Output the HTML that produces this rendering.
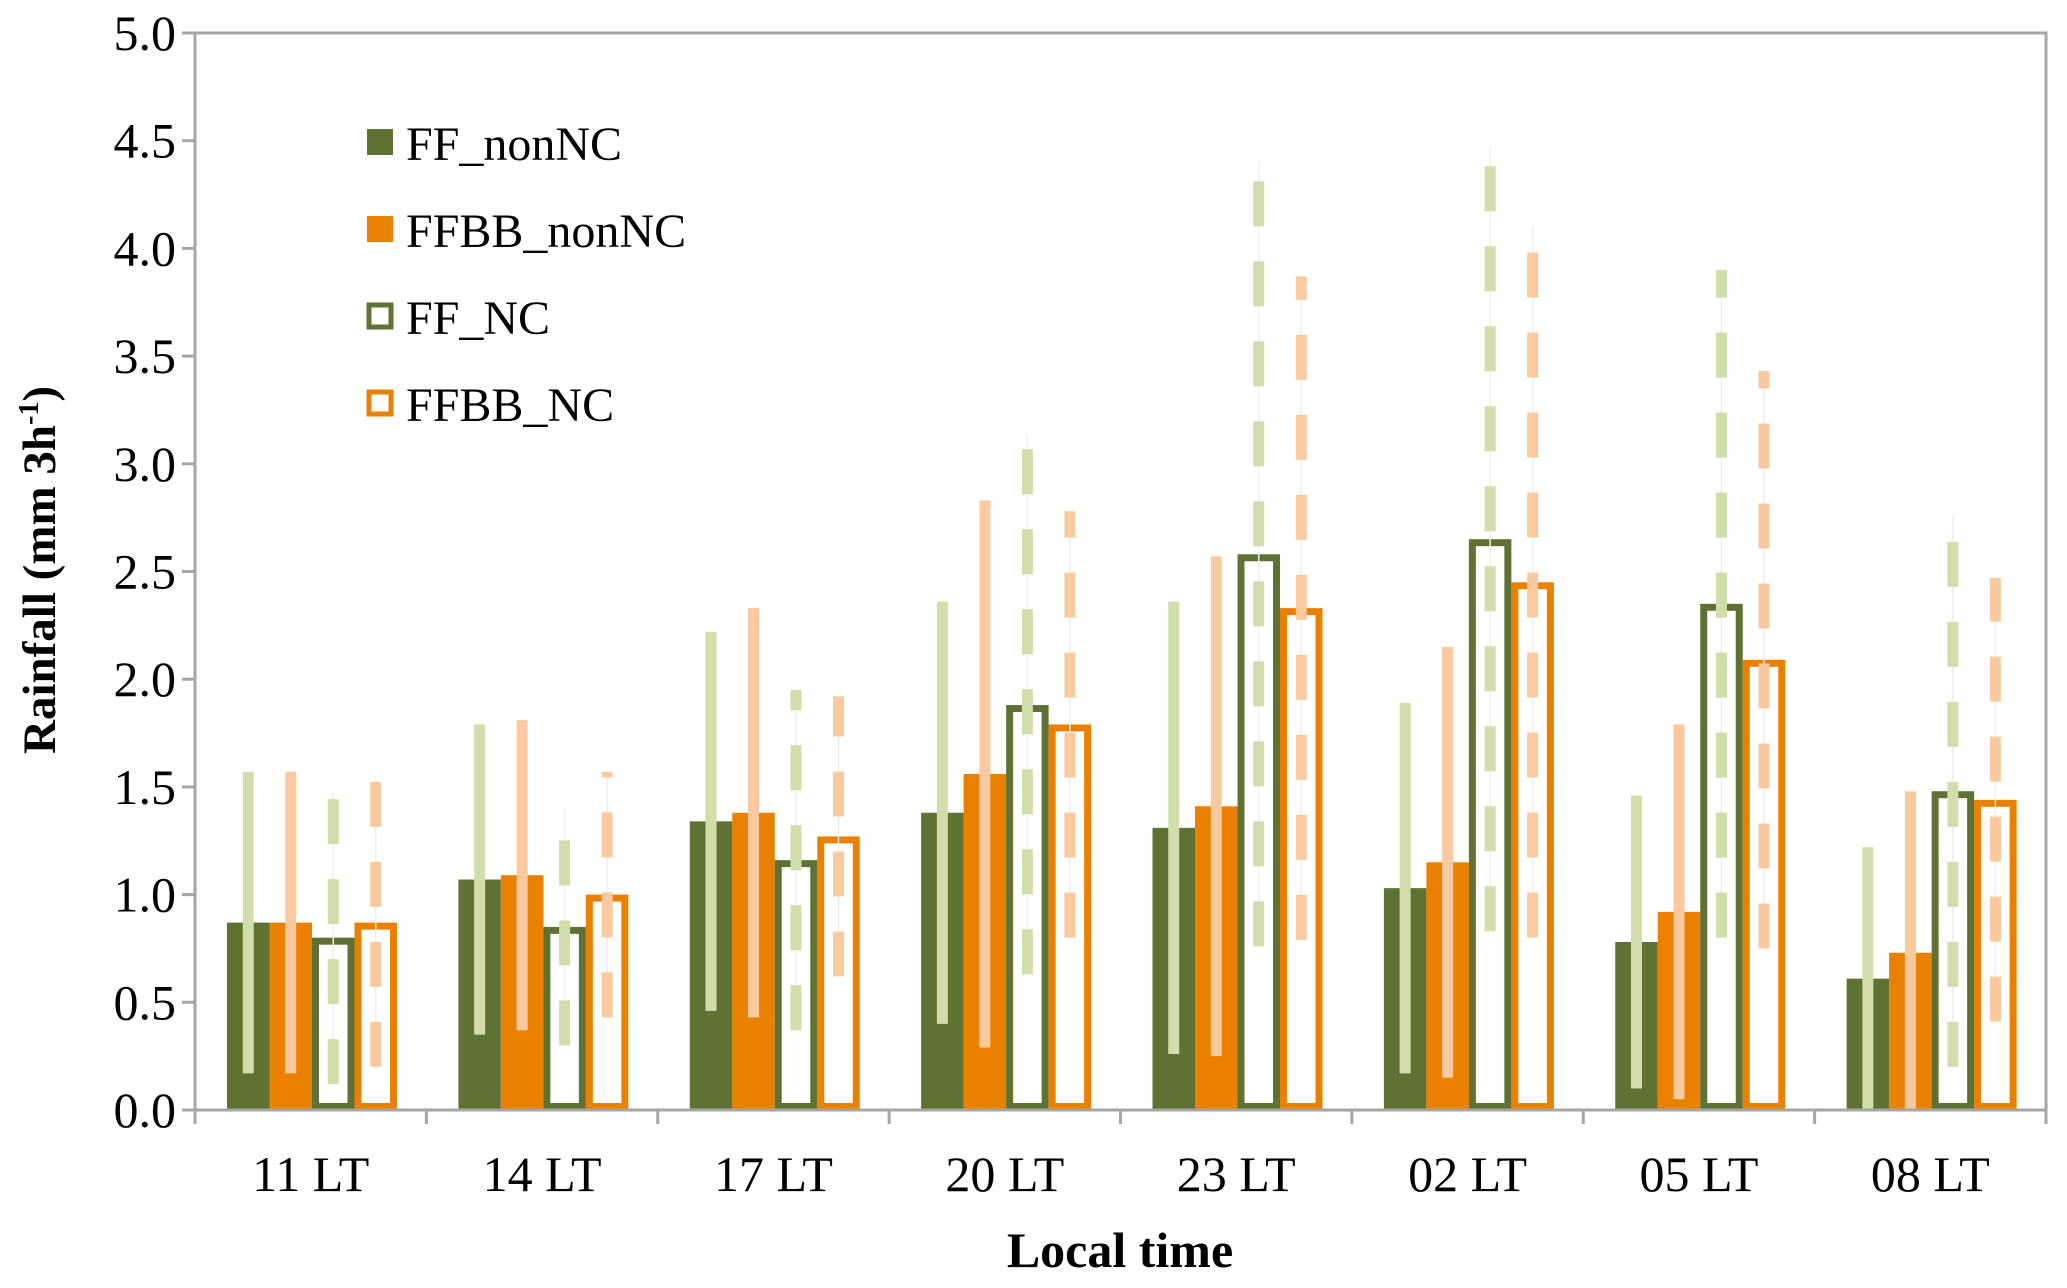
<!DOCTYPE html>
<html><head><meta charset="utf-8"><style>
html,body{margin:0;padding:0;background:#fff;}
svg{display:block;font-family:"Liberation Serif",serif;}
</style></head><body>
<svg id="chart" width="2067" height="1288" viewBox="0 0 2067 1288">
<g id="grid"></g><g id="bars"></g><g id="errs"></g><g id="axes"></g>
<text x="1120" y="1267" font-size="50" font-weight="bold" text-anchor="middle">Local time</text>
<text transform="translate(55,570) rotate(-90)" font-size="47" font-weight="bold" text-anchor="middle">Rainfall (mm  3h<tspan dy="-17" font-size="28">-1</tspan><tspan dy="17">)</tspan></text>
<g>
<g><rect x="367" y="129" width="26" height="26" fill="#5f7233"/><text x="406" y="160" font-size="48">FF_nonNC</text></g>
<g><rect x="367" y="216" width="26" height="26" fill="#e98000"/><text x="406" y="247" font-size="48">FFBB_nonNC</text></g>
<g><rect x="369" y="305" width="22" height="22" fill="#fff" stroke="#5f7233" stroke-width="5"/><text x="406" y="334" font-size="48">FF_NC</text></g>
<g><rect x="369" y="392" width="22" height="22" fill="#fff" stroke="#e98000" stroke-width="5"/><text x="406" y="421" font-size="48">FFBB_NC</text></g>
</g>
</svg>
<script>
const categories = ["11 LT","14 LT","17 LT","20 LT","23 LT","02 LT","05 LT","08 LT"];
const ffNonNC   = [0.87,1.07,1.34,1.38,1.31,1.03,0.78,0.61];
const ffbbNonNC = [0.87,1.09,1.38,1.56,1.41,1.15,0.92,0.73];
const ffNC      = [0.80,0.85,1.16,1.88,2.58,2.65,2.35,1.48];
const ffbbNC    = [0.87,1.00,1.27,1.79,2.33,2.45,2.09,1.44];
const ffNonNCErr   = [0.70,0.72,0.88,0.98,1.05,0.86,0.68,0.61];
const ffbbNonNCErr = [0.70,0.72,0.95,1.27,1.16,1.00,0.87,0.75];
const ffNCErr      = [0.68,0.55,0.79,1.25,1.82,1.82,1.55,1.28];
const ffbbNCErr    = [0.67,0.57,0.65,0.99,1.54,1.65,1.34,1.03];
const yTicks = ["0.0","0.5","1.0","1.5","2.0","2.5","3.0","3.5","4.0","4.5","5.0"];

const NS="http://www.w3.org/2000/svg";
const L=195,R=2046,T=33,B=1110,YMAX=5;
const gw=(R-L)/categories.length, bw=42.5, off=32;
const y=v=>B-(v/YMAX)*(B-T);
const xBar=(i,k)=>L+i*gw+off+k*bw;
function mk(tag,attrs,parent){const e=document.createElementNS(NS,tag);for(const a in attrs)e.setAttribute(a,attrs[a]);parent.appendChild(e);return e;}
const gBars=document.getElementById('bars'),gErr=document.getElementById('errs'),gAx=document.getElementById('axes');
const series=[
 {v:ffNonNC,e:ffNonNCErr,c:"#5f7233",lc:"#d1deab",fill:true,n:"ff-nonnc"},
 {v:ffbbNonNC,e:ffbbNonNCErr,c:"#e98000",lc:"#fbc9a0",fill:true,n:"ffbb-nonnc"},
 {v:ffNC,e:ffNCErr,c:"#5f7233",lc:"#d1deab",fill:false,n:"ff-nc"},
 {v:ffbbNC,e:ffbbNCErr,c:"#e98000",lc:"#fbc9a0",fill:false,n:"ffbb-nc"}];
series.forEach((s,k)=>{
 s.v.forEach((val,i)=>{
  const x=xBar(i,k);
  let r;
  if(s.fill){r=mk('rect',{x:x,y:y(val),width:bw,height:B-y(val),fill:s.c},gBars);}
  else{r=mk('rect',{x:x+3.5,y:y(val)+3.5,width:bw-7,height:B-y(val)-7,fill:"#fff",stroke:s.c,"stroke-width":7},gBars);}
  
  
  const cx=x+bw/2, lo=Math.max(0,val-s.e[i]), hi=val+s.e[i];
  if(s.fill){
   const l=mk('line',{x1:cx,x2:cx,y1:y(lo),y2:y(hi),stroke:s.lc,"stroke-width":11},gErr);
   
   
  } else {
   mk('line',{x1:cx,x2:cx,y1:y(lo),y2:y(hi),stroke:"#eeeeee","stroke-width":1.5},gErr);
   const l=mk('line',{x1:cx,x2:cx,y1:y(lo),y2:y(hi),stroke:s.lc,"stroke-width":11,"stroke-dasharray":"45 35"},gErr);
   
   
  }
 });
});
mk('rect',{x:L,y:T,width:R-L,height:B-T,fill:"none",stroke:"#a6a6a6","stroke-width":3},gAx);
yTicks.forEach((t,i)=>{
 const v=parseFloat(t);
 mk('line',{x1:L-13,x2:L,y1:y(v),y2:y(v),stroke:"#a6a6a6","stroke-width":3},gAx);
 const tx=mk('text',{x:176,y:y(v)+17,"font-size":50,"text-anchor":"end"},gAx);
 tx.textContent=t;
 
 
});
for(let i=0;i<=categories.length;i++){
 mk('line',{x1:L+i*gw,x2:L+i*gw,y1:B,y2:B+14,stroke:"#a6a6a6","stroke-width":3},gAx);
}
categories.forEach((c,i)=>{
 const tx=mk('text',{x:L+i*gw+gw/2,y:1191,"font-size":50,"text-anchor":"middle"},gAx);
 tx.textContent=c;
 
 
});
</script>
</body></html>
